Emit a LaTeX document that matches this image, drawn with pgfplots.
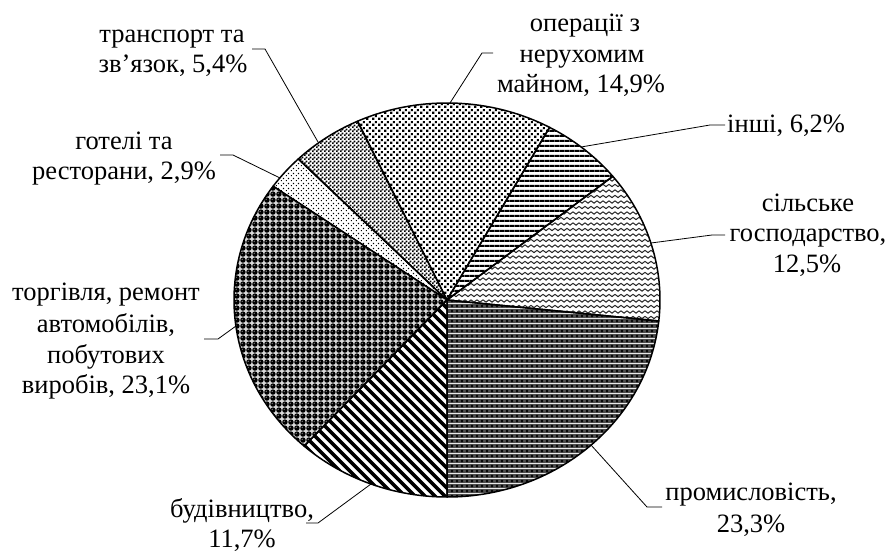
\documentclass[border=0pt]{standalone}
\usepackage{fontspec}
\setmainfont{Liberation Serif}
\usepackage{pgfplots}
\pgfplotsset{compat=1.18}
\usepackage{pgfplotstable}
\usetikzlibrary{patterns}

% ---------- patterns ----------
\pgfdeclarepatternformonly{hstripes}{\pgfqpoint{0pt}{0pt}}{\pgfqpoint{5pt}{5pt}}{\pgfqpoint{5pt}{5pt}}{%
  \pgfpathrectangle{\pgfqpoint{-0.5pt}{0pt}}{\pgfqpoint{6pt}{2.5pt}}\pgfusepath{fill}}
\pgfdeclarepatternformonly{nwstripes}{\pgfqpoint{-1pt}{-1pt}}{\pgfqpoint{11pt}{11pt}}{\pgfqpoint{10pt}{10pt}}{%
  \pgfsetlinewidth{3.6pt}\pgfpathmoveto{\pgfqpoint{-1pt}{11pt}}\pgfpathlineto{\pgfqpoint{11pt}{-1pt}}\pgfusepath{stroke}}
\pgfdeclarepatternformonly{dotsA}{\pgfqpoint{0pt}{0pt}}{\pgfqpoint{6pt}{6pt}}{\pgfqpoint{6pt}{6pt}}{%
  \pgfpathrectangle{\pgfqpoint{0.2pt}{0.2pt}}{\pgfqpoint{2.5pt}{2.5pt}}%
  \pgfpathrectangle{\pgfqpoint{3.2pt}{3.2pt}}{\pgfqpoint{2.5pt}{2.5pt}}\pgfusepath{fill}}
\pgfdeclarepatternformonly{dotsB}{\pgfqpoint{0pt}{0pt}}{\pgfqpoint{4pt}{4pt}}{\pgfqpoint{4pt}{4pt}}{%
  \pgfpathrectangle{\pgfqpoint{0pt}{0pt}}{\pgfqpoint{2.05pt}{2.05pt}}%
  \pgfpathrectangle{\pgfqpoint{2pt}{2pt}}{\pgfqpoint{2.05pt}{2.05pt}}\pgfusepath{fill}}
\pgfdeclarepatternformonly{dotsC}{\pgfqpoint{0pt}{0pt}}{\pgfqpoint{5pt}{5pt}}{\pgfqpoint{5pt}{5pt}}{%
  \pgfpathrectangle{\pgfqpoint{1pt}{1pt}}{\pgfqpoint{1.3pt}{1.3pt}}%
  \pgfpathrectangle{\pgfqpoint{3.5pt}{3.5pt}}{\pgfqpoint{1.3pt}{1.3pt}}\pgfusepath{fill}}
\pgfdeclarepatternformonly{waves}{\pgfqpoint{-0.5pt}{0pt}}{\pgfqpoint{6.5pt}{5.5pt}}{\pgfqpoint{6pt}{5.5pt}}{%
  \pgfsetlinewidth{1pt}\pgfpathmoveto{\pgfqpoint{-0.5pt}{1.8pt}}\pgfpathlineto{\pgfqpoint{0pt}{1.5pt}}\pgfpathlineto{\pgfqpoint{3pt}{3.7pt}}%
  \pgfpathlineto{\pgfqpoint{6pt}{1.5pt}}\pgfpathlineto{\pgfqpoint{6.5pt}{1.8pt}}\pgfusepath{stroke}}
\pgfdeclarepatterninherentlycolored{spheres}{\pgfqpoint{0pt}{0pt}}{\pgfqpoint{6.4pt}{6.4pt}}{\pgfqpoint{6.4pt}{6.4pt}}{%
  \pgfsetfillcolor{white!85!black}\pgfpathrectangle{\pgfqpoint{0pt}{0pt}}{\pgfqpoint{6.4pt}{6.4pt}}\pgfusepath{fill}%
  \pgfsetfillcolor{black}\pgfpathcircle{\pgfqpoint{3.2pt}{3.2pt}}{2.95pt}\pgfusepath{fill}%
  \pgfsetfillcolor{black!45}\pgfpathcircle{\pgfqpoint{2.4pt}{4.0pt}}{0.75pt}\pgfusepath{fill}}
\pgfdeclarepatterninherentlycolored{diamonds}{\pgfqpoint{0pt}{0pt}}{\pgfqpoint{4.5pt}{4.5pt}}{\pgfqpoint{4.5pt}{4.5pt}}{%
  \pgfsetfillcolor{black!70}\pgfpathrectangle{\pgfqpoint{0pt}{0pt}}{\pgfqpoint{4.5pt}{4.5pt}}\pgfusepath{fill}%
  \pgfsetfillcolor{black}\pgfpathmoveto{\pgfqpoint{2.25pt}{0.7pt}}\pgfpathlineto{\pgfqpoint{3.8pt}{2.25pt}}%
  \pgfpathlineto{\pgfqpoint{2.25pt}{3.8pt}}\pgfpathlineto{\pgfqpoint{0.7pt}{2.25pt}}\pgfpathclose\pgfusepath{fill}%
  \pgfsetfillcolor{white!70!black}\pgfpathcircle{\pgfqpoint{0pt}{0pt}}{0.5pt}\pgfusepath{fill}}

% ---------- data (percent, counter-clockwise from 6 o'clock) ----------
\pgfplotstableread{
sector value
1 23.3
2 12.5
3 6.2
4 14.9
5 5.4
6 2.9
7 23.1
8 11.7
}\pietable

\newcommand\slice[3]{%
  \filldraw[#3, draw=black, line width=1.5pt, line join=round]
    (axis cs:447,250) -- (axis cs:{447+213*cos(#1)},{250+197*sin(#1)})
    arc[start angle=#1, end angle=#2, x radius=213pt, y radius=197pt] -- cycle;}

\newcommand\lblfont{\fontsize{26.5}{31}\selectfont}
\newcommand\lbl[3]{\node[anchor=base, inner sep=0pt, font=\lblfont] at (axis cs:#1,#2) {#3};}

\begin{document}
\begin{tikzpicture}
\pgfmathsetmacro\angA{-90}
\pgfplotstablegetelem{0}{value}\of\pietable\pgfmathsetmacro\angB{\angA+3.6*\pgfplotsretval}
\pgfplotstablegetelem{1}{value}\of\pietable\pgfmathsetmacro\angC{\angB+3.6*\pgfplotsretval}
\pgfplotstablegetelem{2}{value}\of\pietable\pgfmathsetmacro\angD{\angC+3.6*\pgfplotsretval}
\pgfplotstablegetelem{3}{value}\of\pietable\pgfmathsetmacro\angE{\angD+3.6*\pgfplotsretval}
\pgfplotstablegetelem{4}{value}\of\pietable\pgfmathsetmacro\angF{\angE+3.6*\pgfplotsretval}
\pgfplotstablegetelem{5}{value}\of\pietable\pgfmathsetmacro\angG{\angF+3.6*\pgfplotsretval}
\pgfplotstablegetelem{6}{value}\of\pietable\pgfmathsetmacro\angH{\angG+3.6*\pgfplotsretval}
\pgfplotstablegetelem{7}{value}\of\pietable\pgfmathsetmacro\angI{\angH+3.6*\pgfplotsretval}
\begin{axis}[x=1pt, y=1pt, xmin=0, xmax=891, ymin=0, ymax=550,
  hide axis, clip=false, anchor=origin, at={(0pt,0pt)}]
\path (axis cs:0,0) rectangle (axis cs:891,550);
% slices
\slice{\angA}{\angB}{pattern=diamonds}
\slice{\angB}{\angC}{pattern=waves, pattern color=black!85}
\slice{\angC}{\angD}{pattern=hstripes}
\slice{\angD}{\angE}{pattern=dotsA}
\slice{\angE}{\angF}{pattern=dotsB}
\slice{\angF}{\angG}{pattern=dotsC}
\slice{\angG}{\angH}{pattern=spheres}
\slice{\angH}{\angI}{pattern=nwstripes}
% leader lines
\draw[line width=0.8pt] (axis cs:252,501) -- (axis cs:265,501) -- (axis cs:318,408);
\draw[line width=0.8pt] (axis cs:493,497) -- (axis cs:482,497) -- (axis cs:450,447);
\draw[line width=0.8pt] (axis cs:725,425) -- (axis cs:710,425) -- (axis cs:581,403);
\draw[line width=0.8pt] (axis cs:725,315) -- (axis cs:712,315) -- (axis cs:651,307);
\draw[line width=0.8pt] (axis cs:662,43) -- (axis cs:647,43) -- (axis cs:591,105);
\draw[line width=0.8pt] (axis cs:306,27) -- (axis cs:318,27) -- (axis cs:371,66);
\draw[line width=0.8pt] (axis cs:220,395) -- (axis cs:233,395) -- (axis cs:280,372);
\draw[line width=0.8pt] (axis cs:204,211) -- (axis cs:218,211) -- (axis cs:236,224);
% labels
\lbl{172}{507}{транспорт та}
\lbl{173}{477}{зв’язок, 5,4\%}
\lbl{585}{518}{операції з}
\lbl{582}{487}{нерухомим}
\lbl{581}{457}{майном, 14,9\%}
\node[anchor=base west, inner sep=0pt, font=\lblfont] at (axis cs:727,417) {інші, 6,2\%};
\lbl{808}{338}{сільське}
\lbl{808}{308}{господарство,}
\lbl{807}{277}{12,5\%}
\lbl{751}{50}{промисловість,}
\lbl{751}{18}{23,3\%}
\lbl{242}{33}{будівництво,}
\lbl{242}{3}{11,7\%}
\lbl{124}{400}{готелі та}
\lbl{124}{370}{ресторани, 2,9\%}
\lbl{106}{250}{торгівля, ремонт}
\lbl{106}{218}{автомобілів,}
\lbl{106}{187}{побутових}
\lbl{106}{157}{виробів, 23,1\%}
\end{axis}
\end{tikzpicture}
\end{document}
